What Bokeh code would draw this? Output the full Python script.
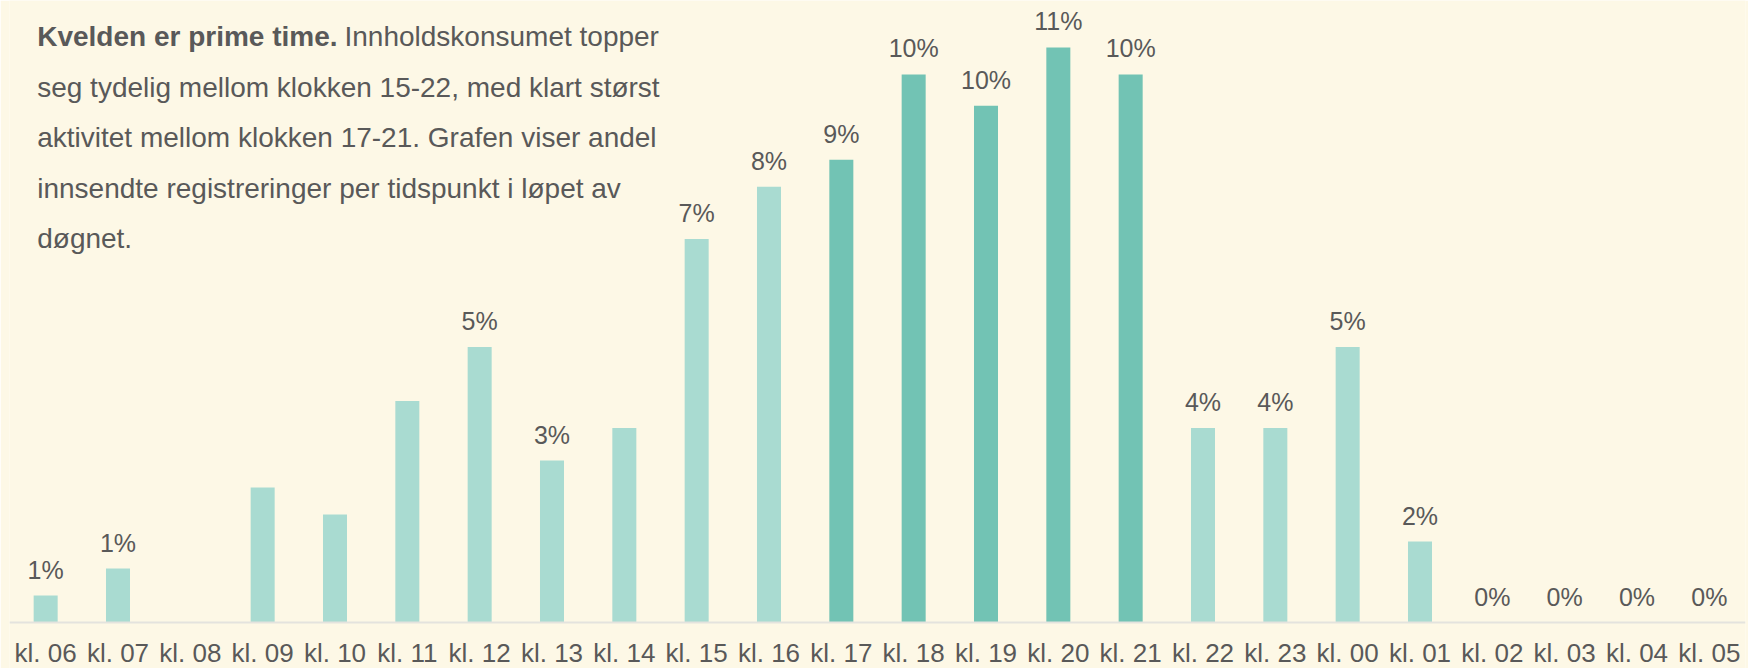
from bokeh.plotting import figure
from bokeh.models import Range1d, FactorRange, ColumnDataSource, Label
from bokeh.embed import file_html
from bokeh.resources import INLINE
from bokeh.core.properties import value

# ---- data ----
categories = ["kl. 06", "kl. 07", "kl. 08", "kl. 09", "kl. 10", "kl. 11", "kl. 12",
              "kl. 13", "kl. 14", "kl. 15", "kl. 16", "kl. 17", "kl. 18", "kl. 19",
              "kl. 20", "kl. 21", "kl. 22", "kl. 23", "kl. 00", "kl. 01", "kl. 02",
              "kl. 03", "kl. 04", "kl. 05"]
shares = [0.5, 1.0, 0.0, 2.5, 2.0, 4.1, 5.1, 3.0, 3.6, 7.1, 8.07, 8.57, 10.15, 9.57,
          10.65, 10.15, 3.6, 3.6, 5.1, 1.5, 0.0, 0.0, 0.0, 0.0]
value_labels = ["1%", "1%", "", "", "", "", "5%", "3%", "", "7%", "8%", "9%", "10%", "10%",
                "11%", "10%", "4%", "4%", "5%", "2%", "0%", "0%", "0%", "0%"]
highlight = ["kl. 17", "kl. 18", "kl. 19", "kl. 20", "kl. 21"]

title_bold = "Kvelden er prime time."
title_rest = " Innholdskonsumet topper"
body_lines = ["seg tydelig mellom klokken 15-22, med klart størst",
              "aktivitet mellom klokken 17-21. Grafen viser andel",
              "innsendte registreringer per tidspunkt i løpet av",
              "døgnet."]

# ---- style / layout ----
BG = "#fdf8e6"
LIGHT = "#a9dbd1"
DARK = "#72c3b4"
TEXT = "#595959"
FONT = "Liberation Sans"

W, H = 1748, 668
LEFT, RIGHT = 9, 3             # frame borders (px)
BASE_PX = 622.0                # pixel row of y = 0
PX_PER_UNIT = 54.0             # pixels per 1 %
STEP = (W - LEFT - RIGHT) / len(categories)

y_start = -(H - BASE_PX) / PX_PER_UNIT
y_end = BASE_PX / PX_PER_UNIT

def xd(px):  # pixel column -> synthetic x coordinate
    return (px - LEFT) / STEP

def yd(py):  # pixel row -> y data value
    return (BASE_PX - py) / PX_PER_UNIT

colors = [DARK if c in highlight else LIGHT for c in categories]
src = ColumnDataSource(dict(x=categories, top=shares, color=colors, lab=value_labels))

p = figure(width=W, height=H, output_backend="svg", toolbar_location=None,
           x_range=FactorRange(factors=categories, range_padding=0),
           y_range=Range1d(y_start, y_end),
           min_border_left=LEFT, min_border_right=RIGHT, min_border_top=0, min_border_bottom=0)
p.background_fill_color = BG
p.border_fill_color = BG
p.outline_line_color = None
p.grid.visible = False
p.yaxis.visible = False

p.vbar(x="x", top="top", width=0.332, color="color", source=src, line_color=None)
p.text(x="x", y="top", text="lab", source=src, text_align="center",
       text_baseline="alphabetic", y_offset=-26, text_color=TEXT,
       text_font=value(FONT), text_font_size="25px")

ax = p.xaxis[0]
ax.fixed_location = 0
ax.major_label_text_font = FONT
ax.major_label_text_font_size = "26px"
ax.major_label_text_color = TEXT
ax.major_tick_out = 0
ax.major_tick_in = 0
ax.major_label_standoff = 15
ax.major_tick_line_color = None
ax.minor_tick_line_color = None
ax.axis_line_color = "#e4e3de"
ax.axis_line_width = 2

# text block
TX = xd(36.7)
TY = 36.0      # first-line anchor row
LS = 50.6
p.add_layout(Label(x=TX, y=yd(TY), text=title_bold,
                   text_font=FONT, text_font_size="28px", text_font_style="bold",
                   text_color=TEXT, text_baseline="alphabetic"))
p.add_layout(Label(x=xd(344), y=yd(TY), text=title_rest,
                   text_font=FONT, text_font_size="28px",
                   text_color=TEXT, text_baseline="alphabetic"))
for k, line in enumerate(body_lines):
    p.add_layout(Label(x=TX, y=yd(TY + LS * (k + 1)), text=line,
                       text_font=FONT, text_font_size="28px",
                       text_color=TEXT, text_baseline="alphabetic"))

open("out.html", "w").write(file_html(p, INLINE))
